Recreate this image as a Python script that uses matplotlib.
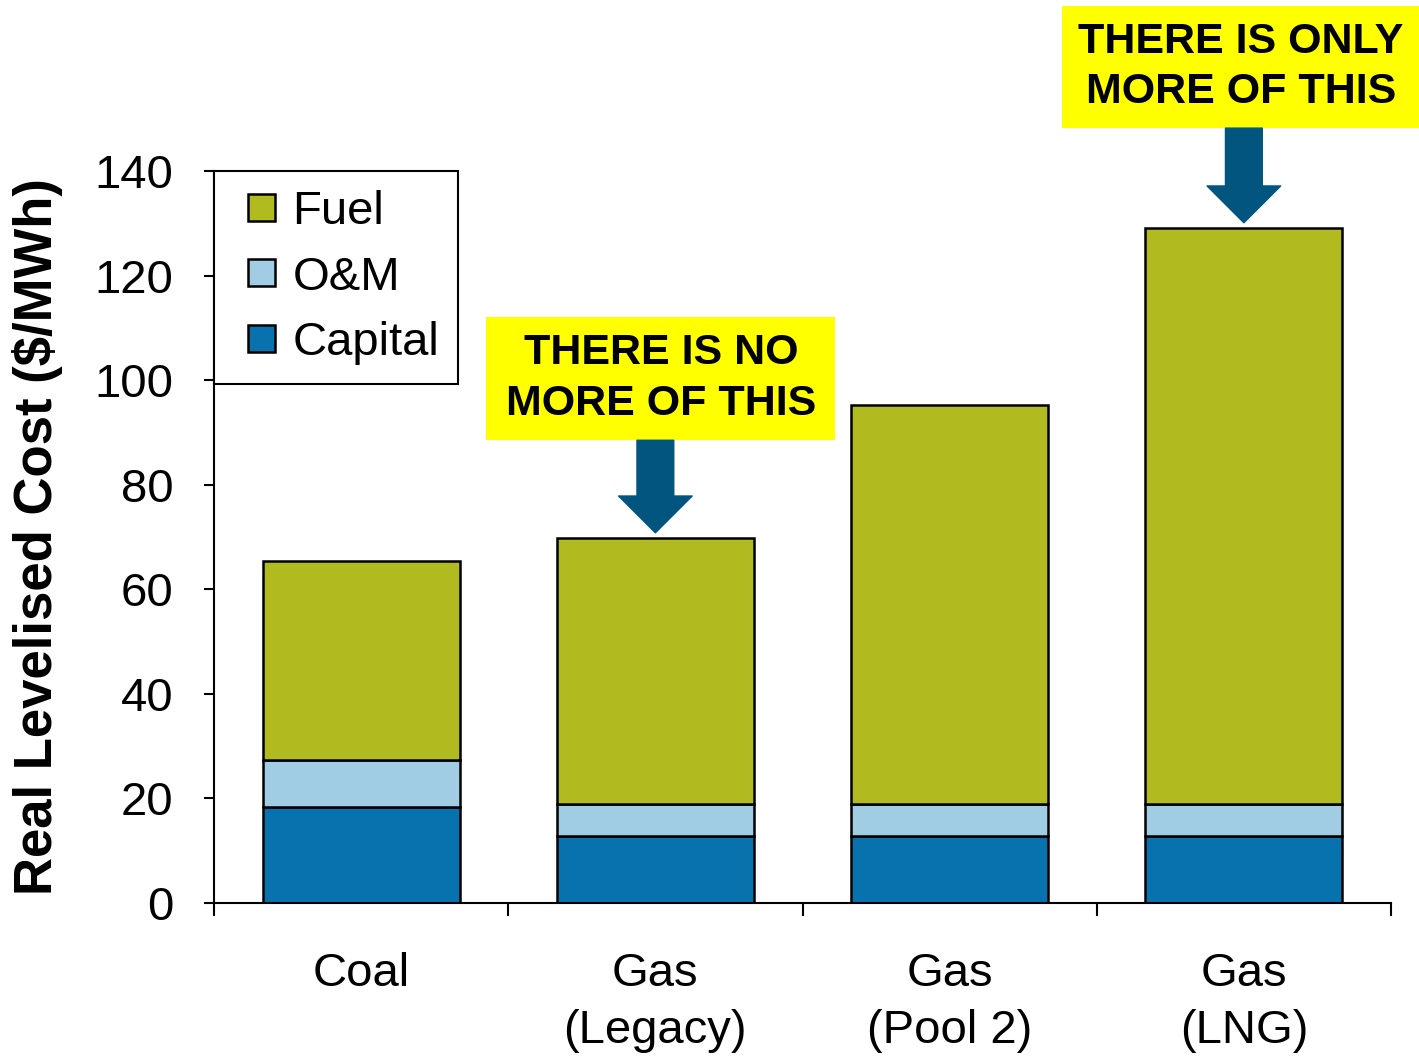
import matplotlib
matplotlib.use("Agg")
import matplotlib.pyplot as plt
from matplotlib.patches import Rectangle
from matplotlib.legend_handler import HandlerPatch
import numpy as np

plt.rcParams['font.family'] = ['Liberation Sans', 'DejaVu Sans']

# data
categories = ["Coal", "Gas\n(Legacy)", "Gas\n(Pool 2)", "Gas\n(LNG)"]
capital = [18.4, 12.8, 12.8, 12.8]
om = [8.9, 6.1, 6.1, 6.1]
fuel = [38.1, 50.9, 76.3, 110.2]

callout_text = ["THERE IS NO\nMORE OF THIS", "THERE IS ONLY\nMORE OF THIS"]
callout_bar = [1, 3]

c_fuel = "#b1ba1f"
c_om = "#a0cce4"
c_cap = "#0872ae"
c_arrow = "#02557f"

fig = plt.figure(figsize=(14.19, 10.56), dpi=100)
ax = fig.add_axes([214 / 1419, 1 - 903 / 1056, 1177 / 1419, 732 / 1056])

x = np.arange(len(categories)) + 0.5
w = 0.67
cap = np.array(capital)
o = np.array(om)
f = np.array(fuel)
ax.bar(x, cap, w, color=c_cap, edgecolor="black", linewidth=1.8, label="Capital")
ax.bar(x, o, w, bottom=cap, color=c_om, edgecolor="black", linewidth=1.8, label="O&M")
ax.bar(x, f, w, bottom=cap + o, color=c_fuel, edgecolor="black", linewidth=1.8, label="Fuel")

ax.set_xlim(0, len(categories))
ax.set_ylim(0, 140)
ax.set_yticks(np.arange(0, 141, 20))
ax.set_xticks(np.arange(0, len(categories) + 1))
ax.set_xticklabels([])
ax.set_xticks(x, minor=True)
ax.set_xticklabels(categories, minor=True, fontsize=34, linespacing=1.4)
ax.tick_params(axis="x", which="major", length=9, width=1.5, direction="out")
ax.tick_params(axis="x", which="minor", length=0, pad=35)
ax.tick_params(axis="y", length=7, width=1.5, direction="out", labelsize=34, pad=22)
for s in ["top", "right"]:
    ax.spines[s].set_visible(False)
for s in ["left", "bottom"]:
    ax.spines[s].set_linewidth(1.5)

ax.set_ylabel("Real Levelised Cost ($/MWh)", fontsize=38, fontweight="bold")
ax.yaxis.set_label_coords(-0.128, 0.5)


# square legend keys pushed to the right of the handle box
def square_key(legend, orig_handle, xdescent, ydescent, width, height, fontsize):
    s = 0.57 * fontsize
    return Rectangle((width - s - xdescent, -ydescent + (height - s) / 2), s, s)


h, l = ax.get_legend_handles_labels()
keys = [c.patches[0] for c in h[::-1]]
leg = ax.legend(keys, l[::-1], loc="upper left", bbox_to_anchor=(0, 1.0),
                borderaxespad=0, fontsize=34, handlelength=0.9, handleheight=0.57,
                handletextpad=0.36, labelspacing=0.46, borderpad=0.4,
                fancybox=False, framealpha=1, edgecolor="black",
                handler_map={Rectangle: HandlerPatch(patch_func=square_key)})
leg.get_frame().set_linewidth(1.5)

# yellow callouts with arrows
boxes = [(0.925, 88.5, 1.187, 23.6), (2.881, 148.2, 1.218, 23.3)]
for (bx, by, bw, bh), txt, i in zip(boxes, callout_text, callout_bar):
    ax.add_patch(Rectangle((bx, by), bw, bh, facecolor="#ffff00", edgecolor="none",
                           clip_on=False, zorder=5))
    ax.text(bx + bw / 2, by + bh / 2, txt, ha="center", va="center", fontsize=31,
            fontweight="bold", linespacing=1.33, zorder=6, clip_on=False)
    top = cap[i] + o[i] + f[i]
    ax.annotate("", xy=(x[i], top + 1.0), xytext=(x[i], by), xycoords="data",
                arrowprops=dict(arrowstyle="simple,head_length=1.0,head_width=2.0,tail_width=1.0",
                                mutation_scale=26.5, color=c_arrow, shrinkA=0, shrinkB=0),
                annotation_clip=False, zorder=6)

fig.savefig("out.png", dpi=100)
